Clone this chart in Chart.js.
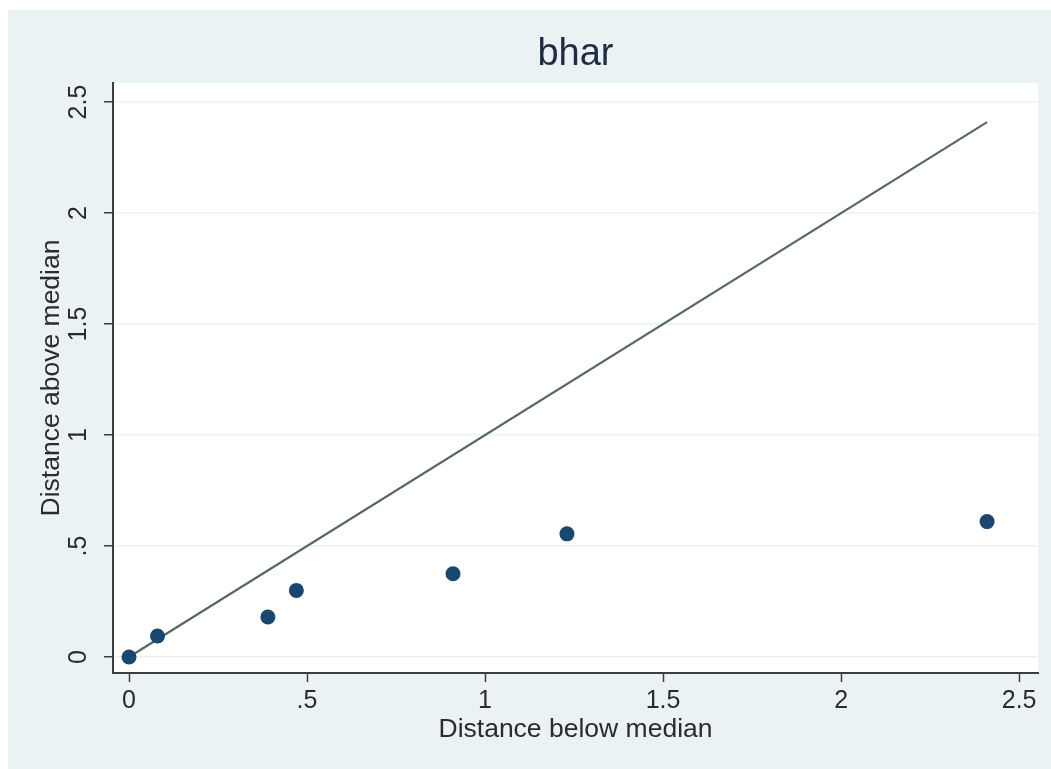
<!DOCTYPE html>
<html>
<head>
<meta charset="utf-8">
<title>bhar</title>
<script src="https://cdn.jsdelivr.net/npm/chart.js@4.4.1/dist/chart.umd.min.js"></script>
<style>
  html, body { margin: 0; padding: 0; background: #ffffff; }
  canvas { display: block; }
</style>
</head>
<body>
<canvas id="symChart" width="1051" height="769"></canvas>
<script>
// distance below / above the median
const belowMedian = [0, 0.08, 0.39, 0.47, 0.91, 1.23, 2.41];
const aboveMedian = [0, 0.095, 0.18, 0.30, 0.375, 0.555, 0.61];

// reference line y = x
const refLineX = [0, 2.41];
const refLineY = [0, 2.41];

const xTickValues = [0, 0.5, 1, 1.5, 2, 2.5];
const xTickLabels = ['0', '.5', '1', '1.5', '2', '2.5'];
const yTickValues = [0, 0.5, 1, 1.5, 2, 2.5];
const yTickLabels = ['0', '.5', '1', '1.5', '2', '2.5'];

const FONT = '"Liberation Sans", Arial, Helvetica, sans-serif';
const AXIS_COLOR = '#3d3d3d';
const TEXT_COLOR = '#2b2b2b';

// outer light bluish-gray frame, white plot region
const backgroundPlugin = {
    id: 'stataBackground',
    beforeDraw(chart) {
        const { ctx, chartArea } = chart;
        ctx.save();
        ctx.fillStyle = '#ffffff';
        ctx.fillRect(0, 0, chart.width, chart.height);
        ctx.fillStyle = '#eaf2f3';
        ctx.fillRect(8, 10, chart.width - 8, chart.height - 10);
        ctx.fillStyle = '#ffffff';
        ctx.fillRect(chartArea.left, chartArea.top,
            chartArea.right - chartArea.left, chartArea.bottom - chartArea.top);
        ctx.restore();
    }
};

function labelFrom(values, labels) {
    return function(value) {
        const i = values.findIndex(v => Math.abs(v - value) < 1e-9);
        return i >= 0 ? labels[i] : '';
    };
}

const ctx = document.getElementById('symChart').getContext('2d');
new Chart(ctx, {
    type: 'scatter',
    data: {
        datasets: [
            {
                label: 'bhar',
                data: belowMedian.map((x, i) => ({ x, y: aboveMedian[i] })),
                pointRadius: 7.5,
                pointHoverRadius: 7.5,
                pointBackgroundColor: '#1a476f',
                pointBorderWidth: 0
            },
            {
                type: 'line',
                label: 'y = x',
                data: refLineX.map((x, i) => ({ x, y: refLineY[i] })),
                borderColor: '#56695f',
                borderWidth: 2.2,
                pointRadius: 0,
                fill: false
            }
        ]
    },
    options: {
        responsive: false,
        animation: false,
        layout: { padding: { left: 0, top: 0, right: 13, bottom: 0 } },
        plugins: {
            legend: { display: false },
            tooltip: { enabled: false },
            title: {
                display: true,
                fullSize: false,
                text: 'bhar',
                color: '#1f2a44',
                font: { family: FONT, size: 38, weight: 'normal', lineHeight: 1.2 },
                padding: { top: 32, bottom: 5.4 }
            }
        },
        scales: {
            x: {
                type: 'linear',
                position: 'bottom',
                min: -0.045,
                max: 2.553,
                afterBuildTicks: scale => { scale.ticks = xTickValues.map(v => ({ value: v })); },
                afterFit: scale => { scale.height = 96; },
                ticks: {
                    callback: labelFrom(xTickValues, xTickLabels),
                    color: TEXT_COLOR,
                    font: { family: FONT, size: 25, lineHeight: 1.2 },
                    padding: 4,
                    maxRotation: 0,
                    autoSkip: false
                },
                grid: {
                    drawOnChartArea: false,
                    drawTicks: true,
                    tickLength: 9,
                    tickColor: AXIS_COLOR,
                    tickWidth: 1.5
                },
                border: { display: true, color: AXIS_COLOR, width: 2 },
                title: {
                    display: true,
                    text: 'Distance below median',
                    color: TEXT_COLOR,
                    font: { family: FONT, size: 26.5, lineHeight: 1.2 },
                    padding: { top: 0, bottom: 23 }
                }
            },
            y: {
                type: 'linear',
                position: 'left',
                min: -0.072,
                max: 2.586,
                afterBuildTicks: scale => { scale.ticks = yTickValues.map(v => ({ value: v })); },
                afterFit: scale => { scale.width = 113; },
                ticks: {
                    callback: labelFrom(yTickValues, yTickLabels),
                    color: TEXT_COLOR,
                    font: { family: FONT, size: 25, lineHeight: 1.2 },
                    padding: 7.6,
                    minRotation: 90,
                    maxRotation: 90,
                    crossAlign: 'center',
                    autoSkip: false
                },
                grid: {
                    drawOnChartArea: true,
                    color: '#eaf2f3',
                    lineWidth: 1.5,
                    drawTicks: true,
                    tickLength: 9,
                    tickColor: AXIS_COLOR,
                    tickWidth: 1.5
                },
                border: { display: true, color: AXIS_COLOR, width: 2 },
                title: {
                    display: true,
                    text: 'Distance above median',
                    color: TEXT_COLOR,
                    font: { family: FONT, size: 26.5, lineHeight: 1.2 },
                    padding: { top: 36, bottom: 0 }
                }
            }
        }
    },
    plugins: [backgroundPlugin]
});
</script>
</body>
</html>
